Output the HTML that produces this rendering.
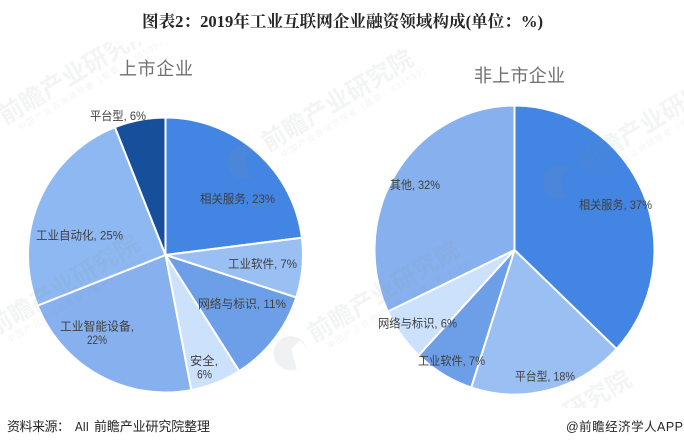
<!DOCTYPE html>
<html lang="zh">
<head>
<meta charset="utf-8">
<title>2019年工业互联网企业融资领域构成</title>
<style>
html,body{margin:0;padding:0;background:#fff;width:684px;height:447px;overflow:hidden}
#frame{position:relative;width:684px;height:447px;overflow:hidden}
svg{display:block;overflow:hidden}
.sans{font-family:"Liberation Sans","Noto Sans CJK SC",sans-serif}
.lab{font-family:"Liberation Sans","Noto Sans CJK SC",sans-serif;font-size:12px;fill:#404040}
.wm{font-family:"Liberation Sans","Noto Sans CJK SC",sans-serif;fill:#8a8f98;fill-opacity:.1}
</style>
</head>
<body>
<div id="frame">
<svg id="chart" xmlns="http://www.w3.org/2000/svg" width="684" height="447" viewBox="0 0 684 447">
  <defs>
    <clipPath id="wm-clip"><rect x="0" y="42" width="684" height="366"/></clipPath>
    <g id="wm-mark">
      <path d="M-38,19 A17,17 0 1 1 -7,6 L-14,-3 L-23,6 L-17,26 A17,17 0 0 1 -38,19 Z" fill="#8a8f98" fill-opacity=".13"/>
      <text class="wm" x="0" y="0" font-size="24.5" font-weight="700" textLength="172" lengthAdjust="spacing" transform="rotate(-31)">前瞻产业研究院</text>
      <text class="wm" x="10" y="13" font-size="8.5" textLength="172" lengthAdjust="spacing" transform="rotate(-31)">中国产业咨询领导者（股票：839599）</text>
    </g>
  </defs>

  <text x="142" y="27" font-family="'Liberation Serif','Noto Serif CJK SC',serif" font-size="16.5" font-weight="700" fill="#262626" textLength="401" lengthAdjust="spacingAndGlyphs">图表2：2019年工业互联网企业融资领域构成(单位：%)</text>

  <text class="sans" x="119" y="75" font-size="18" fill="#707070" textLength="74">上市企业</text>
  <text class="sans" x="474" y="82" font-size="18" fill="#707070" textLength="91">非上市企业</text>

  <g id="listed-pie"></g>
  <g id="unlisted-pie"></g>

  <g clip-path="url(#wm-clip)">
    <use href="#wm-mark" x="5" y="125"/>
    <use href="#wm-mark" x="268" y="152"/>
    <use href="#wm-mark" x="-6" y="337"/>
    <use href="#wm-mark" x="314" y="343"/>
    <use href="#wm-mark" x="583" y="172"/>
    <text class="wm" x="570" y="422" font-size="24.5" font-weight="700" textLength="74" lengthAdjust="spacing" transform="rotate(-31 570 422)">研究院</text>
  </g>

  <g>
    <text class="lab" x="200" y="203" textLength="75" lengthAdjust="spacingAndGlyphs">相关服务, 23%</text>
    <text class="lab" x="228" y="268" textLength="69" lengthAdjust="spacingAndGlyphs">工业软件, 7%</text>
    <text class="lab" x="198" y="308" textLength="88" lengthAdjust="spacingAndGlyphs">网络与标识, 11%</text>
    <text class="lab" x="190" y="365" textLength="28" lengthAdjust="spacingAndGlyphs">安全,</text>
    <text class="lab" x="197" y="378.5" textLength="15" lengthAdjust="spacingAndGlyphs">6%</text>
    <text class="lab" x="60" y="330.5" textLength="74" lengthAdjust="spacingAndGlyphs">工业智能设备,</text>
    <text class="lab" x="87" y="344" textLength="20" lengthAdjust="spacingAndGlyphs">22%</text>
    <text class="lab" x="36" y="239.5" textLength="87" lengthAdjust="spacingAndGlyphs">工业自动化, 25%</text>
    <text class="lab" x="90" y="120" textLength="56" lengthAdjust="spacingAndGlyphs">平台型, 6%</text>
  </g>
  <g>
    <text class="lab" x="579" y="209" textLength="73" lengthAdjust="spacingAndGlyphs">相关服务, 37%</text>
    <text class="lab" x="515" y="380.5" textLength="60" lengthAdjust="spacingAndGlyphs">平台型, 18%</text>
    <text class="lab" x="418" y="365" textLength="67" lengthAdjust="spacingAndGlyphs">工业软件, 7%</text>
    <text class="lab" x="378" y="327.5" textLength="79" lengthAdjust="spacingAndGlyphs">网络与标识, 6%</text>
    <text class="lab" x="390" y="189" textLength="50" lengthAdjust="spacingAndGlyphs">其他, 32%</text>
  </g>

  <g class="sans" font-size="13" fill="#262626">
    <text x="7" y="431" textLength="63">资料来源：</text>
    <text x="75" y="431" textLength="14" lengthAdjust="spacingAndGlyphs">AII</text>
    <text x="94" y="431" textLength="116">前瞻产业研究院整理</text>
  </g>
  <text class="sans" x="566" y="431" font-size="12.5" fill="#262626" textLength="117">@前瞻经济学人APP</text>
</svg>
</div>

<script>
var listedCategories = ['相关服务', '工业软件', '网络与标识', '安全', '工业智能设备', '工业自动化', '平台型'];
var listedValues = [23, 7, 11, 6, 22, 25, 6];
var listedColors = ['#4285E2', '#9ABFF3', '#6C9FE8', '#CCE1FC', '#86B0EE', '#8DB8F1', '#174F9B'];

var unlistedCategories = ['相关服务', '平台型', '工业软件', '网络与标识', '其他'];
var unlistedValues = [37, 18, 7, 6, 32];
var unlistedColors = ['#4285E2', '#9ABFF3', '#6C9FE8', '#CCE1FC', '#86B0EE'];

function angleScale(values) {
  var total = values.reduce(function (a, b) { return a + b; }, 0);
  return function (v) { return v / total * Math.PI * 2; };
}

function drawPie(groupId, prefix, values, colors, cx, cy, rx, ry) {
  var group = document.getElementById(groupId);
  var toAngle = angleScale(values);
  var start = 0;
  values.forEach(function (v, i) {
    var end = start + toAngle(v);
    var x0 = cx + rx * Math.sin(start), y0 = cy - ry * Math.cos(start);
    var x1 = cx + rx * Math.sin(end), y1 = cy - ry * Math.cos(end);
    var large = end - start > Math.PI ? 1 : 0;
    var path = document.createElementNS('http://www.w3.org/2000/svg', 'path');
    path.setAttribute('d', 'M' + cx + ',' + cy + ' L' + x0 + ',' + y0 +
      ' A' + rx + ',' + ry + ' 0 ' + large + ' 1 ' + x1 + ',' + y1 + ' Z');
    path.setAttribute('fill', colors[i]);
    path.setAttribute('stroke', '#fff');
    path.setAttribute('stroke-width', '2');
    path.setAttribute('stroke-linejoin', 'round');
    
    
    path.setAttribute('id', prefix + '-slice-' + i);
    group.appendChild(path);
    start = end;
  });
}

drawPie('listed-pie', 'listed', listedValues, listedColors, 165.5, 255, 137.5, 137.5);
drawPie('unlisted-pie', 'unlisted', unlistedValues, unlistedColors, 514.5, 250, 140, 144.5);
</script>
</body>
</html>
